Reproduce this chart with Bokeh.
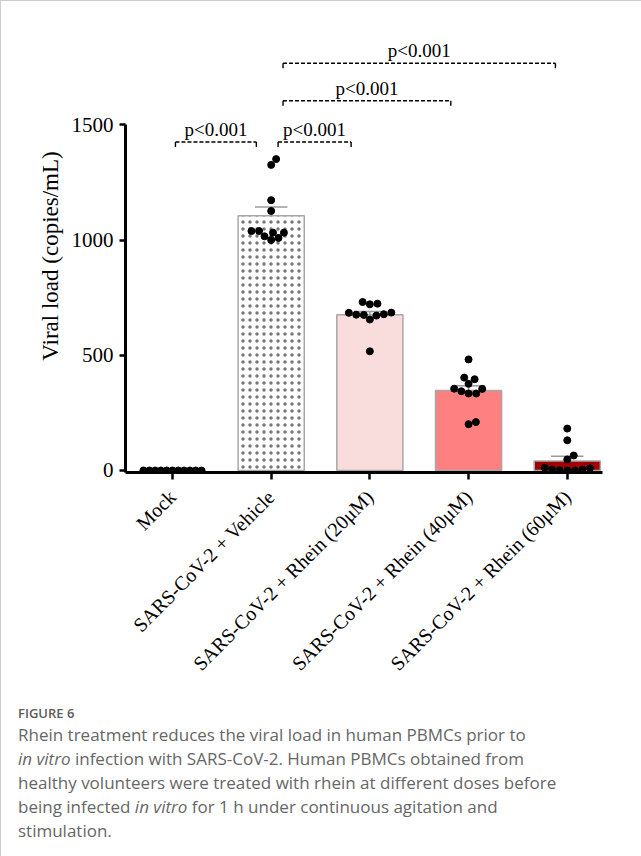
import numpy as np
from bokeh.plotting import figure
from bokeh.models import ColumnDataSource, FixedTicker, Range1d, Div
from bokeh.layouts import column
from bokeh.embed import file_html
from bokeh.resources import INLINE
from bokeh.core.properties import value

# ---------------- data ----------------
groups = ["Mock", "SARS-CoV-2 + Vehicle", "SARS-CoV-2 + Rhein (20μM)",
          "SARS-CoV-2 + Rhein (40μM)", "SARS-CoV-2 + Rhein (60μM)"]
means = [0, 1105, 676, 347, 41]
sems = [0, 38, 14, 21, 21]

mock_pts = [0, 0, 0, 0, 0, 0, 0, 0, 0, 0, 0]
vehicle_pts = [1351, 1326, 1173, 1126, 1039, 1039, 1032, 1032, 1016, 1009, 1000]
rhein20_pts = [731, 724, 721, 685, 684, 678, 676, 675, 672, 655, 517]
rhein40_pts = [482, 403, 396, 376, 355, 354, 344, 334, 334, 210, 201]
rhein60_pts = [182, 131, 65, 48, 12, 10, 4, 4, 1, 0, 0]
all_pts = [mock_pts, vehicle_pts, rhein20_pts, rhein40_pts, rhein60_pts]

y_ticks = [0, 500, 1000, 1500]

comp_left = [0, 1, 1, 1]
comp_right = [1, 2, 3, 4]
comp_height = [1425, 1425, 1604, 1767]
comp_label = ["p<0.001", "p<0.001", "p<0.001", "p<0.001"]

# ---------------- style ----------------
bar_fill = ["#ffffff", "#ffffff", "#f9dcdc", "#ff8080", "#a00000"]
bar_hatch = ["", "dot", "", "", ""]
bracket_inset = [(0.03, 0.15), (0.07, 0.19), (0.12, 0.18), (0.12, 0.12)]
SERIF = "Liberation Serif"

W, H = 632, 696
MB_L, MB_R, MB_T = 124, 31, 38
frame_h = 433
MB_B = H - MB_T - frame_h
x_rng = (-0.476, 4.357)
y_rng = (-8.7, 1870)
frame_w = W - MB_L - MB_R
px_x = frame_w / (x_rng[1] - x_rng[0])
px_y = frame_h / (y_rng[1] - y_rng[0])

p = figure(width=W, height=H, x_range=Range1d(*x_rng), y_range=Range1d(*y_rng),
           output_backend="svg", toolbar_location=None,
           min_border_left=MB_L, min_border_right=MB_R,
           min_border_top=MB_T, min_border_bottom=MB_B)
p.outline_line_color = None
p.xgrid.visible = False
p.ygrid.visible = False
p.background_fill_color = "white"
p.border_fill_color = "white"

# bars
xs = list(range(len(groups)))
bar_src = ColumnDataSource(dict(x=xs, top=means, fill=bar_fill, hatch=bar_hatch))
p.vbar(x="x", top="top", bottom=0, width=0.67, source=bar_src,
       fill_color="fill", line_color="#a8a8a8", line_width=1.5,
       hatch_pattern="hatch", hatch_color="#777777", hatch_scale=7, hatch_weight=0.4)

# error bars (upper only)
ex = [i for i in xs if sems[i] > 0]
e_lo = [means[i] for i in ex]
e_hi = [means[i] + sems[i] for i in ex]
p.segment(x0=ex, y0=e_lo, x1=ex, y1=e_hi, line_color="#9a9a9a", line_width=1.6)
p.segment(x0=[i - 0.165 for i in ex], y0=e_hi, x1=[i + 0.165 for i in ex], y1=e_hi,
          line_color="#9a9a9a", line_width=1.6)


# beeswarm positions computed from the values
def swarm(vals, d=6.8):
    placed = []
    out = [0.0] * len(vals)
    order = np.argsort(vals, kind="stable")
    for idx in order:
        y = vals[idx] * px_y
        cands = [0.0]
        for (xp, yp) in placed:
            dy = abs(y - yp)
            if dy < d:
                dx = np.sqrt(d * d - dy * dy)
                cands += [xp + dx, xp - dx]
        best = 0.0
        for c in sorted(cands, key=lambda c: (abs(c), -c)):
            if all((c - xp) ** 2 + (y - yp) ** 2 >= d * d - 1e-6 for xp, yp in placed):
                best = c
                break
        placed.append((best, y))
        out[idx] = best / px_x
    return out


dx_all, dy_all = [], []
for gi, pts in enumerate(all_pts):
    offs = swarm(pts, d=5.8 if gi == 0 else 7.6)
    dx_all += [gi + o for o in offs]
    dy_all += list(pts)
p.scatter(x=dx_all, y=dy_all, size=7, fill_color="black", line_color="black")

# significance brackets
tick_len = 5 / px_y
for k in range(len(comp_left)):
    x0 = comp_left[k] + bracket_inset[k][0]
    x1 = comp_right[k] - bracket_inset[k][1]
    yk = comp_height[k]
    p.segment(x0=[x0], y0=[yk], x1=[x1], y1=[yk], line_color="black",
              line_width=1.4, line_dash="4 2")
    p.segment(x0=[x0, x1], y0=[yk, yk], x1=[x0, x1], y1=[yk - tick_len, yk - tick_len],
              line_color="black", line_width=1.4)
    p.text(x=[(x0 + x1) / 2], y=[yk], text=[comp_label[k]], text_align="center",
           text_baseline="bottom", y_offset=-2, text_font=value(SERIF),
           text_font_size="19px", text_color="black")

# axes
xa = p.xaxis[0]
xa.ticker = FixedTicker(ticks=xs)
xa.major_label_overrides = {i: g for i, g in enumerate(groups)}
xa.major_label_orientation = np.pi / 4
xa.major_label_text_font = SERIF
xa.major_label_text_font_size = "20px"
xa.major_label_text_color = "black"
xa.axis_line_width = 3
xa.axis_line_color = "black"
xa.major_tick_line_width = 2.5
xa.major_tick_out = 7
xa.major_tick_in = 0
xa.minor_tick_line_color = None
xa.major_label_standoff = 14

ya = p.yaxis[0]
ya.ticker = FixedTicker(ticks=y_ticks)
ya.bounds = (y_rng[0], 1500)
ya.axis_label = "Viral load (copies/mL)"
ya.axis_label_text_font = SERIF
ya.axis_label_text_font_size = "23px"
ya.axis_label_text_font_style = "normal"
ya.axis_label_text_color = "black"
ya.axis_label_standoff = 6
ya.major_label_text_font = SERIF
ya.major_label_text_font_size = "21px"
ya.major_label_text_color = "black"
ya.axis_line_width = 3
ya.axis_line_color = "black"
ya.major_tick_line_width = 2.5
ya.major_tick_out = 6
ya.major_tick_in = 0
ya.minor_tick_line_color = None
ya.major_label_standoff = 6

caption_html = (
    '<div style="font-family:\'Open Sans\',sans-serif;color:#666666;white-space:nowrap;'
    'padding-left:12px;padding-top:2px;">'
    '<div style="font-size:13px;font-weight:600;color:#5c5c5c;line-height:19px;">FIGURE 6</div>'
    '<div style="font-size:17px;line-height:24px;">'
    'Rhein treatment reduces the viral load in human PBMCs prior to<br>'
    '<i>in vitro</i> infection with SARS-CoV-2. Human PBMCs obtained from<br>'
    'healthy volunteers were treated with rhein at different doses before<br>'
    'being infected <i>in vitro</i> for 1 h under continuous agitation and<br>'
    'stimulation.</div></div>'
)
cap = Div(text=caption_html, width=W, height=150)

layout = column(p, cap, styles={"border-left": "1px solid #cccccc",
                                "border-top": "1px solid #cccccc"})

open("out.html", "w").write(file_html(layout, INLINE))
